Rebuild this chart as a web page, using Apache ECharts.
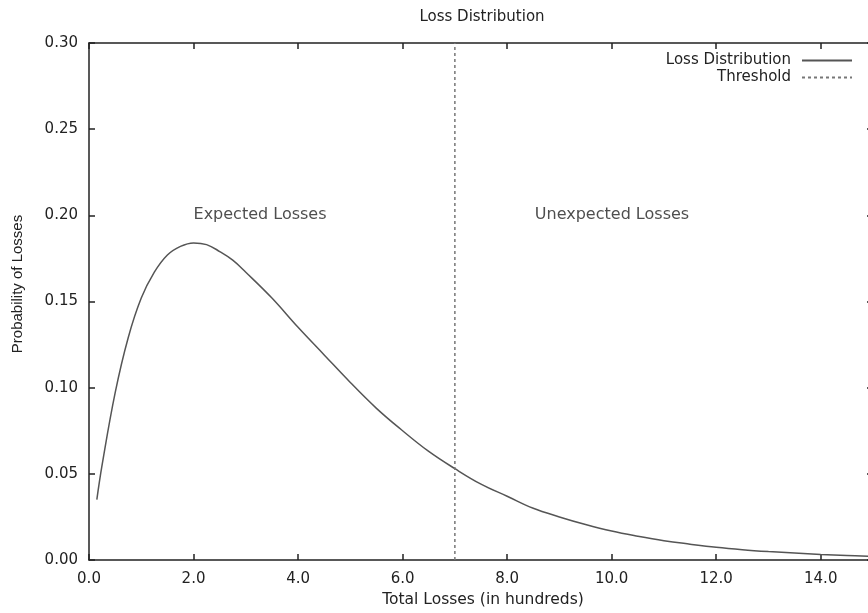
<!DOCTYPE html>
<html>
<head>
<meta charset="utf-8">
<script src="https://cdn.jsdelivr.net/npm/echarts@6/dist/echarts.min.js"></script>
<style>
  html, body { margin: 0; padding: 0; background: #fff; }
  #main { width: 868px; height: 613px; }
</style>
</head>
<body>
<div id="main"></div>
<script>
// values (x in hundreds, y = probability)
var lossX = [0.15, 0.25, 0.5, 0.75, 1, 1.25, 1.5, 1.75, 2, 2.25, 2.5, 2.75, 3, 3.5, 4, 4.5, 5, 5.5, 6, 6.5, 7, 7.5, 8, 8.5, 9, 9.5, 10, 10.5, 11, 11.5, 12, 12.5, 13, 13.5, 14, 14.5, 15];
var lossY = [0.035, 0.055, 0.097, 0.129, 0.152, 0.167, 0.177, 0.182, 0.184, 0.183, 0.179, 0.174, 0.167, 0.152, 0.135, 0.119, 0.103, 0.088, 0.075, 0.063, 0.053, 0.044, 0.037, 0.030, 0.025, 0.0206, 0.0168, 0.0138, 0.0112, 0.0092, 0.0074, 0.0060, 0.0049, 0.0040, 0.0032, 0.0026, 0.0021];
var thresholdX = [7, 7];
var thresholdY = [0, 0.3];
var regionLabels = ['Expected Losses', 'Unexpected Losses'];
var regionLabelX = [2.0, 8.53];
var regionLabelY = [0.2, 0.2];

var font = "'DejaVu Sans', sans-serif";
var ink = '#222';

var lossData = lossX.map(function (x, i) { return [x, lossY[i]]; });
var thresholdData = thresholdX.map(function (x, i) { return [x, thresholdY[i]]; });
var labelData = regionLabels.map(function (t, i) { return [regionLabelX[i], regionLabelY[i], t]; });

var chart = echarts.init(document.getElementById('main'));

function axisBase(extra) {
    var a = {
        type: 'value',
        axisLine: { show: true, onZero: false, lineStyle: { color: ink, width: 1.5 } },
        axisTick: { show: true, inside: true, length: 6, lineStyle: { color: ink, width: 1.5 } },
        splitLine: { show: false },
        axisLabel: { color: ink, fontFamily: font, fontSize: 15 }
    };
    for (var k in extra) a[k] = extra[k];
    return a;
}

var option = {
    animation: false,
    backgroundColor: '#fff',
    grid: { left: 89, top: 43, width: 784, height: 517, containLabel: false, outerBoundsMode: 'none' },
    xAxis: [
        axisBase({ position: 'bottom', min: 0, max: 15, interval: 2,
            axisLabel: { color: ink, fontFamily: font, fontSize: 15, margin: 12,
                formatter: function (v) { return v > 14 ? '' : v.toFixed(1); } } }),
        axisBase({ position: 'top', min: 0, max: 15, interval: 2, axisLabel: { show: false } })
    ],
    yAxis: [
        axisBase({ position: 'left', min: 0, max: 0.3, interval: 0.05,
            axisLabel: { color: ink, fontFamily: font, fontSize: 15, margin: 11,
                formatter: function (v) { return v.toFixed(2); } } }),
        axisBase({ position: 'right', min: 0, max: 0.3, interval: 0.05, axisLabel: { show: false } })
    ],
    legend: {
        data: ['Loss Distribution', 'Threshold'],
        orient: 'vertical',
        right: 15,
        top: 52,
        padding: 0,
        align: 'right',
        itemWidth: 50,
        itemHeight: 14,
        itemGap: 0,
        itemStyle: { opacity: 0 },
        textStyle: { color: ink, fontFamily: font, fontSize: 15, lineHeight: 17, padding: [0, 6, 0, 0] }
    },
    graphic: [
        { type: 'text', x: 482, y: 17,
          style: { text: 'Loss Distribution', fill: ink, font: '15px ' + font,
                   align: 'center', verticalAlign: 'middle' } },
        { type: 'text', x: 483, y: 600,
          style: { text: 'Total Losses (in hundreds)', fill: ink, font: '15.5px ' + font,
                   align: 'center', verticalAlign: 'middle' } },
        { type: 'text', x: 18, y: 284, rotation: Math.PI / 2,
          style: { text: 'Probability of Losses', fill: ink, font: "15px 'Liberation Sans', Arial, sans-serif",
                   align: 'center', verticalAlign: 'middle' } }
    ],
    series: [
        {
            name: 'Loss Distribution',
            type: 'line',
            data: lossData,
            smooth: 0.4,
            symbol: 'none',
            lineStyle: { color: '#555', width: 1.5 },
            itemStyle: { color: '#555' }
        },
        {
            name: 'Threshold',
            type: 'line',
            data: thresholdData,
            symbol: 'none',
            lineStyle: { color: '#777', width: 1.5, type: [3, 3] },
            itemStyle: { color: '#777' }
        },
        {
            name: 'labels',
            type: 'scatter',
            data: labelData,
            symbolSize: 0,
            silent: true,
            label: {
                show: true,
                position: 'right',
                distance: 0,
                color: ink,
                fontFamily: font,
                fontSize: 16,
                formatter: function (p) { return p.value[2]; }
            }
        }
    ]
};

chart.setOption(option);
</script>
</body>
</html>
